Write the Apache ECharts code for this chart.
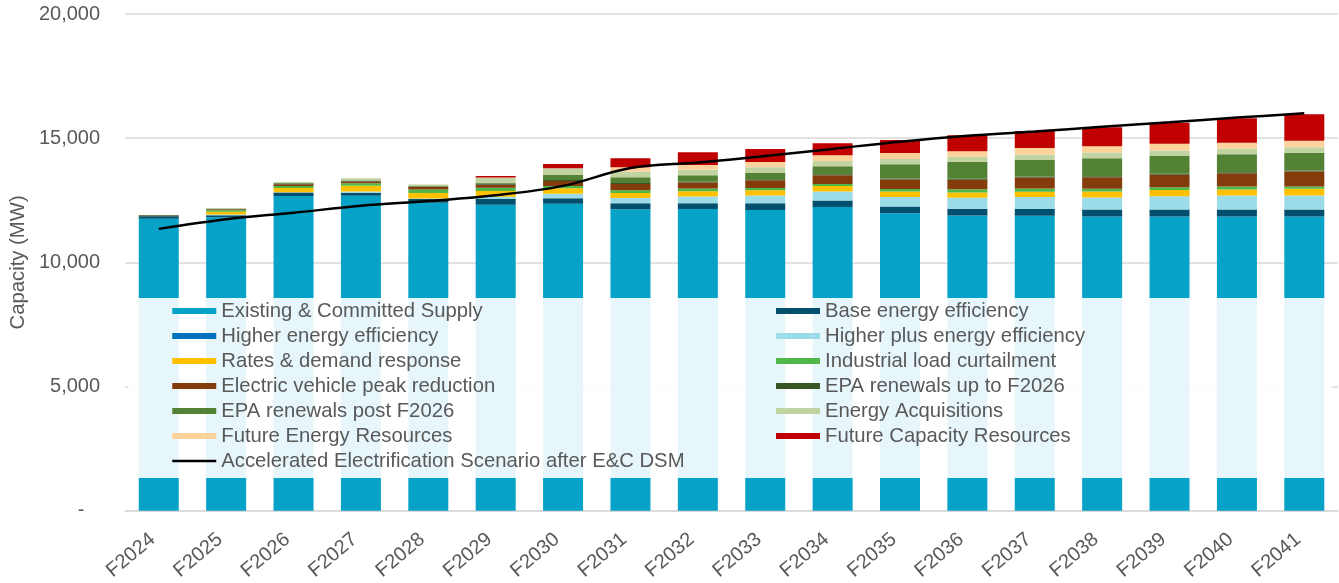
<!DOCTYPE html>
<html>
<head>
<meta charset="utf-8">
<title>Capacity (MW)</title>
<script src="https://cdn.jsdelivr.net/npm/echarts@6/dist/echarts.min.js"></script>
<style>
  html, body { margin: 0; padding: 0; background: #ffffff; }
  #chart { width: 1339px; height: 583px; }
</style>
</head>
<body>
<div id="chart"></div>
<script>
// Fiscal years on the category axis
const categories = ['F2024','F2025','F2026','F2027','F2028','F2029','F2030','F2031','F2032',
  'F2033','F2034','F2035','F2036','F2037','F2038','F2039','F2040','F2041'];

// Stacked supply components (MW)
const existingSupply   = [11760,11820,12676,12688,12400,12326,12366,12141,12153,12113,12233,11980,11890,11880,11850,11850,11850,11850];
const baseEE           = [100,80,134,120,150,228,217,241,228,268,255,268,268,268,280,280,280,280];
const higherEE         = [0,0,0,0,0,0,0,0,0,0,0,0,0,0,0,0,0,0];
const higherPlusEE     = [0,30,15,45,20,94,185,215,268,308,362,389,443,483,483,536,563,563];
const ratesDR          = [0,110,174,235,228,228,217,201,215,215,228,215,215,215,241,250,241,268];
const industrialLC     = [0,55,80,94,134,134,94,107,107,94,80,107,134,134,107,107,121,94];
const evPeak           = [0,35,65,80,100,120,201,255,241,308,349,376,376,443,466,507,536,604];
const epaUpTo2026      = [40,25,42,40,35,40,40,40,40,40,40,40,40,40,40,40,40,40];
const epaPost2026      = [0,0,0,0,0,40,201,228,255,255,322,577,684,657,725,715,725,712];
const energyAcq        = [0,40,54,85,67,210,268,228,228,228,215,215,201,228,228,221,228,228];
const futureEnergy     = [0,0,0,0,0,0,0,174,188,215,228,241,228,255,255,268,228,255];
const futureCapacity   = [0,0,0,0,0,60,174,362,510,523,483,523,644,684,765,845,990,1070];

// Load forecast line (MW)
const scenarioLoad     = [11350,11740,12000,12280,12470,12700,13080,13800,14020,14280,14570,14860,15100,15270,15460,15640,15830,16000];

// Y axis ticks
const yTicks = [0, 5000, 10000, 15000, 20000];

const stackDefs = [
  ['Existing & Committed Supply', existingSupply, '#06A2C8'],
  ['Base energy efficiency', baseEE, '#02506E'],
  ['Higher energy efficiency', higherEE, '#0070C0'],
  ['Higher plus energy efficiency', higherPlusEE, '#9CDCE8'],
  ['Rates & demand response', ratesDR, '#FFC000'],
  ['Industrial load curtailment', industrialLC, '#50B848'],
  ['Electric vehicle peak reduction', evPeak, '#843C0C'],
  ['EPA renewals up to F2026', epaUpTo2026, '#375623'],
  ['EPA renewals post F2026', epaPost2026, '#548235'],
  ['Energy Acquisitions', energyAcq, '#C0D3A0'],
  ['Future Energy Resources', futureEnergy, '#FDD39B'],
  ['Future Capacity Resources', futureCapacity, '#C00000']
];
const lineName = 'Accelerated Electrification Scenario after E&C DSM';

const series = stackDefs.map(([name, data, color]) => ({
  name: name,
  type: 'bar',
  stack: 'supply',
  data: data,
  barWidth: 40,
  itemStyle: { color: color },
  emphasis: { disabled: true },
  z: 2
}));
series.push({
  name: lineName,
  type: 'line',
  data: scenarioLoad,
  smooth: 0.35,
  symbol: 'none',
  lineStyle: { color: '#000000', width: 2.5 },
  itemStyle: { color: '#000000' },
  z: 5
});

const fontFamily = '"Liberation Sans", Arial, sans-serif';
const legendText = { color: '#595959', fontSize: 20.3, fontFamily: fontFamily, lineHeight: 25 };

const leftNames = stackDefs.filter((d, i) => i % 2 === 0).map(d => ({ name: d[0], icon: 'rect' }));
leftNames.push({ name: lineName, itemStyle: { opacity: 0 }, lineStyle: { width: 2.5, color: '#000000' } });
const rightNames = stackDefs.filter((d, i) => i % 2 === 1).map(d => ({ name: d[0], icon: 'rect' }));

const chart = echarts.init(document.getElementById('chart'), null, { renderer: 'canvas' });
chart.setOption({
  animation: false,
  backgroundColor: '#ffffff',
  grid: { left: 121, right: 1, top: 14, bottom: 72, containLabel: false },
  xAxis: {
    type: 'category',
    data: categories,
    axisLine: { show: true, lineStyle: { color: '#D9D9D9', width: 1.5 } },
    axisTick: { show: false },
    axisLabel: {
      rotate: 40, margin: 21, padding: [0, 8, 0, 0],
      color: '#595959', fontSize: 20, fontFamily: fontFamily
    }
  },
  yAxis: {
    type: 'value',
    min: yTicks[0],
    max: yTicks[yTicks.length - 1],
    interval: yTicks[1] - yTicks[0],
    name: 'Capacity (MW)',
    nameLocation: 'middle',
    nameGap: 97,
    nameTextStyle: { color: '#595959', fontSize: 20.3, fontFamily: fontFamily },
    axisLine: { show: false },
    axisTick: { show: false },
    splitLine: { lineStyle: { color: '#D9D9D9', width: 1.5 } },
    axisLabel: {
      margin: 25, color: '#595959', fontSize: 20, fontFamily: fontFamily,
      formatter: v => v === 0 ? '-\u2002 ' : v.toLocaleString('en-US')
    }
  },
  graphic: [{
    type: 'rect',
    z: 10,
    silent: true,
    shape: { x: 128, y: 298, width: 1204, height: 180 },
    style: { fill: 'rgba(255,255,255,0.9)' }
  }],
  legend: [
    {
      z: 20, orient: 'vertical', left: 171, top: 298.5, padding: 0, itemGap: 0,
      itemWidth: 44, itemHeight: 6, selectedMode: false,
      textStyle: legendText, data: leftNames
    },
    {
      z: 20, orient: 'vertical', left: 776, top: 298.5, padding: 0, itemGap: 0,
      itemWidth: 44, itemHeight: 6, selectedMode: false,
      textStyle: legendText, data: rightNames
    }
  ],
  series: series
});
</script>
</body>
</html>
